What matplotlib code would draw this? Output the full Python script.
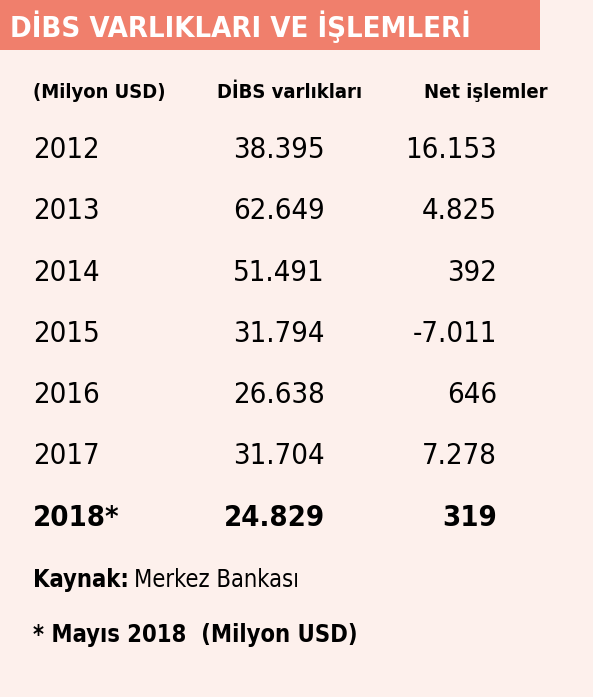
import matplotlib
matplotlib.use("Agg")
import matplotlib.pyplot as plt
from matplotlib.patches import Rectangle

years = ["2012", "2013", "2014", "2015", "2016", "2017", "2018*"]
dibs = ["38.395", "62.649", "51.491", "31.794", "26.638", "31.704", "24.829"]
net = ["16.153", "4.825", "392", "-7.011", "646", "7.278", "319"]
headers = ["(Milyon USD)", "DİBS varlıkları", "Net işlemler"]
title = "DİBS VARLIKLARI VE İŞLEMLERİ"

W, H = 593, 697
fig = plt.figure(figsize=(W / 100, H / 100), dpi=100)
fig.patch.set_facecolor("#fdf0ec")
FONT = ["Liberation Sans Narrow", "DejaVu Sans Condensed", "DejaVu Sans"]

def px(x, y):
    return x / W, 1 - y / H

def txt(x, y, s, size, bold=False, ha="left", color="black"):
    return fig.text(*px(x, y), s, fontsize=size, fontweight="bold" if bold else "normal",
                    family=FONT, fontstretch="condensed", va="center", ha=ha, color=color)

fig.patches.append(Rectangle(px(0, 50), 540 / W, 50 / H, transform=fig.transFigure,
                             facecolor="#f07f6c", edgecolor="none"))
txt(10, 27, title, 21, True, color="white")

hy = 92
txt(33, hy, headers[0], 14.5, True)
txt(362, hy, headers[1], 14.5, True, ha="right")
txt(548, hy, headers[2], 14.5, True, ha="right")

for i, (yr, d, n) in enumerate(zip(years, dibs, net)):
    y = 150 + i * 61.3
    b = i == len(years) - 1
    txt(33, y, yr, 21, b)
    txt(325, y, d, 21, b, ha="right")
    txt(497, y, n, 21, b, ha="right")

t = txt(33, 580, "Kaynak:", 17, True)
fig.canvas.draw()
bb = t.get_window_extent()
fig.text(bb.x1 / W + 5 / W, 1 - 580 / H, "Merkez Bankası", fontsize=17, family=FONT,
         fontstretch="condensed", va="center", ha="left")
txt(33, 635, "* Mayıs 2018  (Milyon USD)", 17, True)

fig.savefig("out.png", dpi=100, facecolor=fig.get_facecolor())
